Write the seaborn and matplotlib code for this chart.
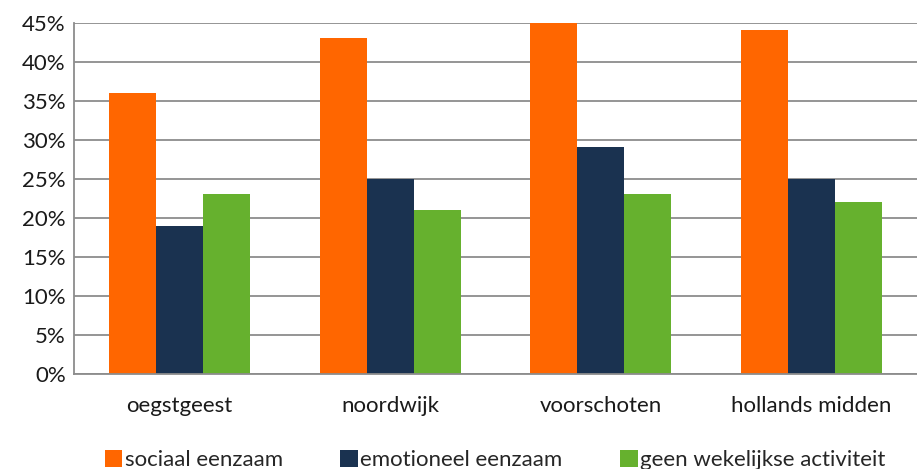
import pandas as pd
import matplotlib
matplotlib.use("Agg")
import matplotlib.pyplot as plt
import seaborn as sns
from matplotlib.ticker import PercentFormatter

# data
regions = ["oegstgeest", "noordwijk", "voorschoten", "hollands midden"]
series = ["sociaal eenzaam", "emotioneel eenzaam", "geen wekelijkse activiteit"]
sociaal = [36, 43, 45, 44]
emotioneel = [19, 25, 29, 25]
geen_activiteit = [23, 21, 23, 22]
colors = ["#ff6600", "#1a3250", "#66b12e"]

rows = []
for name, vals in zip(series, [sociaal, emotioneel, geen_activiteit]):
    for reg, v in zip(regions, vals):
        rows.append({"regio": reg, "reeks": name, "waarde": v})
df = pd.DataFrame(rows)

sns.set_style("white")
plt.rcParams["font.family"] = ["Lato", "DejaVu Sans"]

fig = plt.figure(figsize=(9.17, 4.69), dpi=100)
ax = fig.add_axes([0.0807, 0.2026, 0.9193, 0.7494])

sns.barplot(data=df, x="regio", y="waarde", hue="reeks", order=regions,
            hue_order=series, palette=colors, saturation=1, width=0.67,
            linewidth=0, ax=ax, legend=True)

ax.set_ylim(0, 45)
ax.set_xlim(-0.5, 3.5)
ax.set_yticks(range(0, 46, 5))
ax.yaxis.set_major_formatter(PercentFormatter(decimals=0))
ax.grid(axis="y", color="#8c8c8c", linewidth=1.3)
ax.set_axisbelow(True)
for s in ["top", "right"]:
    ax.spines[s].set_visible(False)
for s in ["left", "bottom"]:
    ax.spines[s].set_color("#8c8c8c")
    ax.spines[s].set_linewidth(1.3)
ax.tick_params(axis="both", length=0, labelsize=16, colors="#1a1a1a")
ax.tick_params(axis="x", pad=16)
ax.tick_params(axis="y", pad=6)
ax.set_xlabel("")
ax.set_ylabel("")

handles, labels = ax.get_legend_handles_labels()
ax.get_legend().remove()
fig.legend(handles, labels, loc="lower center", bbox_to_anchor=(0.54, -0.045),
           ncol=3, frameon=False, fontsize=16, handlelength=0.8,
           handleheight=0.8, handletextpad=0.1, columnspacing=2.6)

fig.savefig("out.png", dpi=100)
